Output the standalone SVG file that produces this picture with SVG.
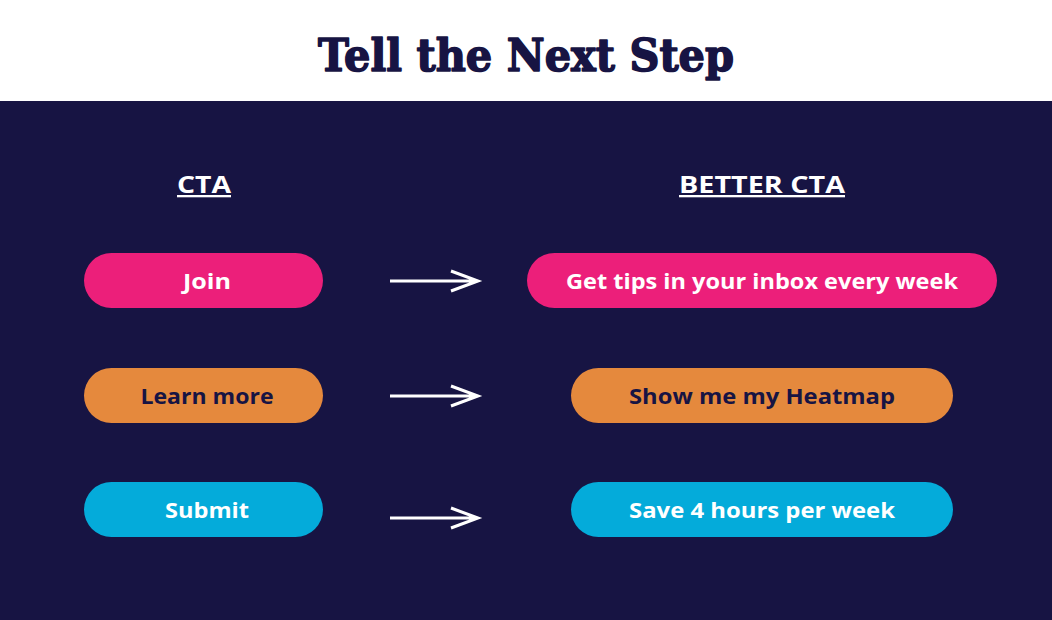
<svg xmlns="http://www.w3.org/2000/svg" width="1052" height="620" viewBox="0 0 1052 620">
<defs>
<style>
.title{font-family:"DejaVu Serif","Liberation Serif",serif;font-weight:900;font-size:45px;fill:#171443;stroke:#171443;stroke-width:1.6;stroke-linejoin:round}
.head{font-family:"Open Sans","Liberation Sans",sans-serif;font-weight:700;font-size:23px;fill:#ffffff;text-decoration:underline}
.lbl{font-family:"Open Sans","Liberation Sans",sans-serif;font-weight:700;font-size:21px;text-anchor:middle}
.w{fill:#ffffff}
.n{fill:#171443}
.pink{fill:#EC1F7A}
.orange{fill:#E5893D}
.cyan{fill:#04ABDA}
.arrow{stroke:#ffffff;stroke-width:3;fill:none;stroke-linecap:butt}
</style>
</defs>
<rect x="0" y="0" width="1052" height="101" fill="#ffffff"/>
<rect x="0" y="101" width="1052" height="519" fill="#171443"/>
<text class="title" x="526" y="71" text-anchor="middle" textLength="416" lengthAdjust="spacingAndGlyphs">Tell the Next Step</text>
<text class="head" x="204" y="193" text-anchor="middle" textLength="54" lengthAdjust="spacingAndGlyphs">CTA</text>
<text class="head" x="762" y="193" text-anchor="middle" textLength="166" lengthAdjust="spacingAndGlyphs">BETTER CTA</text>
<g id="cta-join"><rect class="pink" x="84" y="253" width="239" height="55" rx="27.5"/><text class="lbl w" x="207" y="289" textLength="48" lengthAdjust="spacingAndGlyphs">Join</text></g>
<g id="cta-learn"><rect class="orange" x="84" y="368" width="239" height="55" rx="27.5"/><text class="lbl n" x="207" y="404" textLength="133" lengthAdjust="spacingAndGlyphs">Learn more</text></g>
<g id="cta-submit"><rect class="cyan" x="84" y="482" width="239" height="55" rx="27.5"/><text class="lbl w" x="207" y="518" textLength="84" lengthAdjust="spacingAndGlyphs">Submit</text></g>
<g id="better-tips"><rect class="pink" x="527" y="253" width="470" height="55" rx="27.5"/><text class="lbl w" x="762" y="289" textLength="392" lengthAdjust="spacingAndGlyphs">Get tips in your inbox every week</text></g>
<g id="better-heatmap"><rect class="orange" x="571" y="368" width="382" height="55" rx="27.5"/><text class="lbl n" x="762" y="404" textLength="266" lengthAdjust="spacingAndGlyphs">Show me my Heatmap</text></g>
<g id="better-save"><rect class="cyan" x="571" y="482" width="382" height="55" rx="27.5"/><text class="lbl w" x="762" y="518" textLength="266" lengthAdjust="spacingAndGlyphs">Save 4 hours per week</text></g>
<g id="connectors">
<path class="arrow" d="M390 281 H477 M451 271 L478 281 L451 291"/>
<path class="arrow" d="M390 396 H477 M451 386 L478 396 L451 406"/>
<path class="arrow" d="M390 518 H477 M451 508 L478 518 L451 528"/>
</g>
</svg>
